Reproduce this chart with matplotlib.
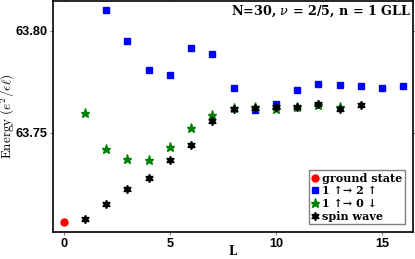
import matplotlib
matplotlib.use("Agg")
import matplotlib.pyplot as plt
from matplotlib.font_manager import FontProperties

plt.rcParams['mathtext.fontset'] = 'custom'
plt.rcParams['mathtext.rm'] = 'DejaVu Serif'
plt.rcParams['mathtext.it'] = 'DejaVu Serif:italic'
plt.rcParams['mathtext.bf'] = 'DejaVu Serif:bold'

# ground state
L_gs = [0]
E_gs = [63.7059]

# 1 up -> 2 up
L_sq = [2, 3, 4, 5, 6, 7, 8, 9, 10, 11, 12, 13, 14, 15, 16]
E_sq = [63.8101, 63.7948, 63.7807, 63.7784, 63.7918, 63.7885, 63.7719, 63.7613,
        63.7640, 63.7707, 63.7738, 63.7732, 63.7727, 63.7721, 63.7730]

# 1 up -> 0 down
L_st = [1, 2, 3, 4, 5, 6, 7, 8, 9, 10, 11, 12, 13]
E_st = [63.7596, 63.7418, 63.7368, 63.7364, 63.7429, 63.7521, 63.7588, 63.7623,
        63.7625, 63.7614, 63.7624, 63.7637, 63.7625]

# spin wave
L_sw = [1, 2, 3, 4, 5, 6, 7, 8, 9, 10, 11, 12, 13, 14]
E_sw = [63.7076, 63.7149, 63.7221, 63.7278, 63.7366, 63.7441, 63.7555, 63.7614,
        63.7619, 63.7625, 63.7624, 63.7639, 63.7616, 63.7634]

fig = plt.figure(figsize=(4.15, 2.59), dpi=100)
ax = fig.add_axes([0.128, 0.104, 0.867, 0.894])

ax.plot(L_gs, E_gs, 'o', color='red', ms=5, mec='red', label='ground state')
ax.plot(L_sq, E_sq, 's', color='blue', ms=5, mec='blue', label='1 ↑→ 2 ↑')
ax.plot(L_st, E_st, '*', color='green', ms=6.5, mec='green', label='1 ↑→ 0 ↓')
ax.plot(L_sw, E_sw, marker=(6, 1, 0), ls='none', color='black', ms=6, label='spin wave')

ax.set_xlim(-0.5, 16.45)
ax.set_ylim(63.7011, 63.8149)
ax.set_xticks([0, 5, 10, 15])
ax.set_yticks([63.75, 63.80])
ax.set_yticklabels(['63.75', '63.80'])

for lab in ax.get_xticklabels() + ax.get_yticklabels():
    lab.set_fontfamily('Liberation Sans')
    lab.set_fontweight('bold')
    lab.set_fontsize(9.2)

ax.tick_params(axis='both', which='both', direction='out', length=2, color='grey', pad=2)
ax.tick_params(top=True, right=True)
for s in ax.spines.values():
    s.set_linewidth(1.2)

ax.set_xlabel('L', fontsize=8.5, fontfamily='DejaVu Serif', fontweight='bold')
ax.xaxis.set_label_coords(0.5, -0.058)
ax.set_ylabel(r'$\mathrm{Energy}\ (e^2/\epsilon\ell)$', fontsize=9.5, math_fontfamily='cm')
ax.yaxis.set_label_coords(-0.1, 0.5)

ax.text(0.995, 0.985, r'N=30, $\nu$ = 2/5, n = 1 GLL', fontfamily='DejaVu Serif',
        fontweight='bold', transform=ax.transAxes, ha='right', va='top', fontsize=9.2)

leg_font = FontProperties(family=['DejaVu Serif', 'DejaVu Sans'], weight='bold', size=8)
leg = ax.legend(loc='lower right', prop=leg_font, handletextpad=0.2, handlelength=0.8,
                borderpad=0.2, labelspacing=0.15, borderaxespad=0.75, fancybox=False,
                framealpha=1)
leg.get_frame().set_edgecolor('grey')

fig.savefig('out.png', dpi=100)
